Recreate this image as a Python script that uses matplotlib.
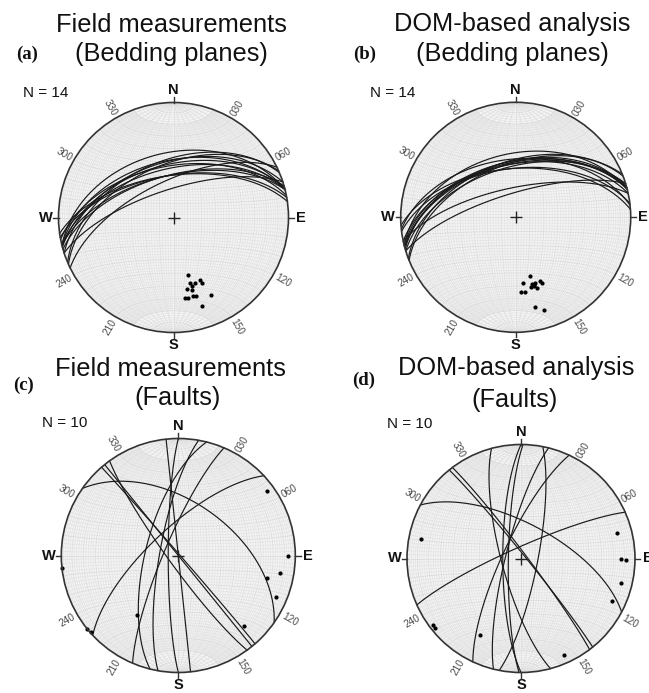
import numpy as np
import matplotlib.pyplot as plt
from matplotlib.patches import Circle

plt.rcParams['font.family'] = ['Liberation Sans', 'DejaVu Sans']

# bedding planes (dip direction / dip, degrees), read from the pole clusters
bed_field_dipdir = [346, 346, 345, 342, 337, 336, 349, 346, 352, 350, 346, 344, 334, 342]
bed_field_dip = [43, 49, 52, 50, 49, 52, 53, 55, 60, 60, 60, 60, 64, 70]
bed_dom_dipdir = [346, 354, 339, 338, 346, 344, 348, 345, 343, 356, 353, 348, 343, 345]
bed_dom_dip = [44, 48, 50, 52, 50, 50, 52, 52, 54, 55, 55, 69, 73, 51]

# faults
fault_field_dipdir = [234, 270, 280, 284, 293, 317, 35, 51, 49, 84]
fault_field_dip = [83, 83, 77, 67, 80, 71, 52, 90, 89, 90]
fault_dom_dipdir = [101, 255, 270, 271, 284, 295, 53, 51, 28, 336]
fault_dom_dip = [78, 76, 77, 81, 79, 77, 86, 87, 65, 82]

titles = ["Field measurements", "DOM-based analysis", "Field measurements", "DOM-based analysis"]
subtitles = ["(Bedding planes)", "(Bedding planes)", "(Faults)", "(Faults)"]
letters = ["(a)", "(b)", "(c)", "(d)"]
az_labels = [30, 60, 120, 150, 210, 240, 300, 330]

W, H = 649, 693
fig = plt.figure(figsize=(W / 100, H / 100), dpi=100)


def proj(n, e, d):
    # lower hemisphere, equal area, primitive radius 1
    s = 1.0 / np.sqrt(1.0 + d)
    return e * s, n * s


def great_circle(dd, dip):
    t = np.radians(np.linspace(0, 180, 181))
    a, b = np.radians(dd - 90), np.radians(dd)
    dp = np.radians(dip)
    n = np.cos(t) * np.cos(a) + np.sin(t) * np.cos(b) * np.cos(dp)
    e = np.cos(t) * np.sin(a) + np.sin(t) * np.sin(b) * np.cos(dp)
    d = np.sin(t) * np.sin(dp)
    return proj(n, e, np.clip(d, 0, 1))


def pole(dd, dip):
    tr = np.radians(np.array(dd) + 180)
    pl = np.radians(90 - np.array(dip))
    n = np.cos(pl) * np.cos(tr)
    e = np.cos(pl) * np.sin(tr)
    d = np.sin(pl)
    return proj(n, e, d)


def draw_net(ax):
    ax.add_patch(Circle((0, 0), 1, facecolor='#f4f4f4', edgecolor='none', zorder=0))
    clip = Circle((0, 0), 1, transform=ax.transData)
    phi = np.radians(np.linspace(-90, 90, 181))
    lam = np.radians(np.linspace(-90, 90, 181))
    # meridians (great circles through N and S)
    for L in range(-88, 90, 2):
        if L % 10 == 0:
            ph = phi
        else:
            ph = np.radians(np.linspace(-70, 70, 141))
        lr = np.radians(L)
        x, y = proj(np.sin(ph), np.cos(ph) * np.sin(lr), np.cos(ph) * np.cos(lr))
        c = '#d9d9d9' if L % 10 == 0 else '#e3e3e3'
        ln, = ax.plot(x, y, color=c, lw=0.5, zorder=1)
        ln.set_clip_path(clip)
    # small circles about the N-S axis
    for P in range(-88, 90, 2):
        pr = np.radians(P)
        x, y = proj(np.full_like(lam, np.sin(pr)), np.cos(pr) * np.sin(lam), np.cos(pr) * np.cos(lam))
        c = '#d9d9d9' if P % 10 == 0 else '#e3e3e3'
        ln, = ax.plot(x, y, color=c, lw=0.5, zorder=1)
        ln.set_clip_path(clip)


def make_panel(i, cx, cy, R, dipdir, dip, nlab, title_pos):
    lim = 1.35
    h = R * lim
    ax = fig.add_axes([(cx - h) / W, (H - cy - h) / H, 2 * h / W, 2 * h / H])
    ax.set_xlim(-lim, lim)
    ax.set_ylim(-lim, lim)
    ax.axis('off')
    draw_net(ax)

    for dd, dp in zip(dipdir, dip):
        x, y = great_circle(dd, dp)
        ax.plot(x, y, color='#1a1a1a', lw=0.85, zorder=3)
    px, py = pole(dipdir, dip)
    ax.plot(px, py, 'o', color='black', ms=2.0, zorder=4)

    ax.add_patch(Circle((0, 0), 1, facecolor='none', edgecolor='#333333', lw=1.2, zorder=5))
    ax.plot(0, 0, marker='+', ms=9, mew=1.0, color='#222222', zorder=5)

    # cardinal ticks and labels
    for az, lab in [(0, 'N'), (90, 'E'), (180, 'S'), (270, 'W')]:
        sx, sy = np.sin(np.radians(az)), np.cos(np.radians(az))
        ax.plot([sx, 1.045 * sx], [sy, 1.045 * sy], color='#333333', lw=1.0, zorder=5, clip_on=False)
        ax.text(1.11 * sx, 1.11 * sy, lab, ha='center', va='center', fontsize=10.5,
                fontweight='bold', color='#111111', clip_on=False)
    for az in az_labels:
        sx, sy = np.sin(np.radians(az)), np.cos(np.radians(az))
        rot = ((90 - az) + 90) % 180 - 90
        ax.text(1.1 * sx, 1.1 * sy, '%03d' % az, ha='center', va='center', fontsize=7.2,
                rotation=rot, color='#4a4a4a', clip_on=False)

    (t1x, t1y), (t2x, t2y), (lx, ly), (nx, ny) = title_pos
    fig.text(t1x / W, 1 - t1y / H, titles[i], ha='center', va='baseline', fontsize=18.3, color='#111111')
    fig.text(t2x / W, 1 - t2y / H, subtitles[i], ha='center', va='baseline', fontsize=18.3, color='#111111')
    fig.text(lx / W, 1 - ly / H, letters[i], ha='left', va='center', fontsize=13.5, fontweight='bold',
             family='Liberation Serif', color='#111111')
    fig.text(nx / W, 1 - ny / H, nlab, ha='left', va='center', fontsize=11, color='#111111')
    return ax


make_panel(0, 173.5, 217.5, 115, bed_field_dipdir, bed_field_dip, 'N = 14',
           [(171, 31.5), (171, 61.5), (16, 54), (23, 93)])
make_panel(1, 515.7, 217.3, 115, bed_dom_dipdir, bed_dom_dip, 'N = 14',
           [(512, 31.5), (512.5, 61.5), (353, 54), (370, 93)])
make_panel(2, 178.3, 555.5, 117, fault_field_dipdir, fault_field_dip, 'N = 10',
           [(170, 376), (178, 405), (13, 385), (42, 423)])
make_panel(3, 521, 558.5, 114, fault_dom_dipdir, fault_dom_dip, 'N = 10',
           [(516, 375), (515, 407), (352, 380), (387, 424)])

fig.savefig('out.png', dpi=100, facecolor='white')
